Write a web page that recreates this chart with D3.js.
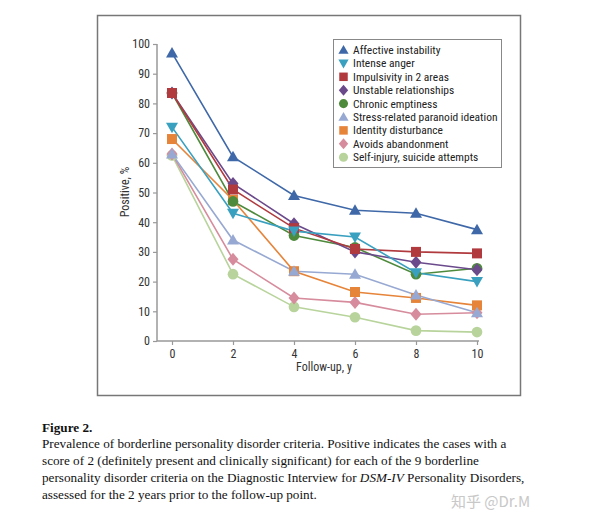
<!DOCTYPE html>
<html><head><meta charset="utf-8">
<script src="https://cdn.jsdelivr.net/npm/d3@7/dist/d3.min.js"></script>
<style>body{margin:0;background:#fff}svg{display:block}</style>
</head><body>
<svg id="c" width="600" height="526"></svg>
<script>
const years = [0, 2, 4, 6, 8, 10];
const yTicks = [0, 10, 20, 30, 40, 50, 60, 70, 80, 90, 100];
const seriesNames = ["Affective instability","Intense anger","Impulsivity in 2 areas","Unstable relationships","Chronic emptiness","Stress-related paranoid ideation","Identity disturbance","Avoids abandonment","Self-injury, suicide attempts"];
const affective = [97, 62, 49, 44, 43, 37.5];
const anger = [72, 43, 37, 35, 23, 20];
const impulsivity = [83.5, 51, 38, 31, 30, 29.5];
const unstable = [83.5, 53, 39.5, 30, 26.5, 24];
const emptiness = [83.5, 47, 35.5, 31.5, 22.5, 24.5];
const paranoid = [63, 34, 23.5, 22.5, 15.5, 9.5];
const identity = [68, 47.5, 23.5, 16.5, 14.5, 12];
const abandonment = [63, 27.5, 14.5, 13, 9, 9.5];
const selfInjury = [62.5, 22.5, 11.5, 8, 3.5, 3];
const allValues = [affective, anger, impulsivity, unstable, emptiness, paranoid, identity, abandonment, selfInjury];
const colors = ["#3f68a8","#3aa0c0","#b03a3e","#6b4a8c","#4e8a3c","#97a9d2","#e6843a","#d68c9c","#b8d49c"];
const shapes = ["triangle","triangleDown","square","diamond","circle","triangle","square","diamond","circle"];

const svg = d3.select("#c");
const x = d3.scaleLinear().domain([0, 10]).range([172, 477]);
const y = d3.scaleLinear().domain([0, 100]).range([341, 44]);

// outer frame
svg.append("rect").attr("x", 97.5).attr("y", 15.5).attr("width", 423).attr("height", 380)
  .attr("fill", "none").attr("stroke", "#777").attr("stroke-width", 1.5);

const font = "'Liberation Sans Narrow','Arial Narrow','Roboto Condensed','Liberation Sans',sans-serif";

// axes
const yAxis = svg.append("g").attr("transform", "translate(157,0)")
  .call(d3.axisLeft(y).tickValues(yTicks).tickSize(4).tickPadding(3));
const xAxis = svg.append("g").attr("transform", "translate(0,341)")
  .call(d3.axisBottom(x).tickValues(years).tickSize(4).tickPadding(4));
[yAxis, xAxis].forEach(a => {
  a.select(".domain").attr("stroke", "#999").attr("stroke-width", 1.5);
  a.selectAll(".tick line").attr("stroke", "#999").attr("stroke-width", 1.2);
  a.selectAll("text").attr("font-family", font).attr("font-size", 12).attr("fill", "#333");
});
yAxis.select(".domain").attr("d", `M0,${y(100)}V341`);
xAxis.select(".domain").attr("d", `M157,0H${x(10) + 2}`);

svg.append("text").attr("transform", "translate(129,192) rotate(-90)")
  .attr("text-anchor", "middle").attr("font-family", font).attr("font-size", 12).attr("fill", "#333")
  .text("Positive, %");
svg.append("text").attr("x", 324).attr("y", 371).attr("text-anchor", "middle")
  .attr("font-family", font).attr("font-size", 12).attr("fill", "#333").text("Follow-up, y");

function markerPath(shape) {
  switch (shape) {
    case "triangle": return "M0,-6L6,4.5L-6,4.5Z";
    case "triangleDown": return "M0,6L6,-4.5L-6,-4.5Z";
    case "square": return "M-5,-5H5V5H-5Z";
    case "diamond": return "M0,-6.5L5.5,0L0,6.5L-5.5,0Z";
    case "circle": return d3.symbol(d3.symbolCircle, 90)();
  }
}

const line = d3.line().x((d, i) => x(years[i])).y(d => y(d));
const order = d3.range(allValues.length).reverse();
order.forEach(k => {
  svg.append("path").attr("d", line(allValues[k])).attr("fill", "none")
    .attr("stroke", colors[k]).attr("stroke-width", 1.6);
});
order.forEach(k => {
  svg.append("g").selectAll("path").data(allValues[k]).join("path")
    .attr("transform", (d, i) => `translate(${x(years[i])},${y(d)})`)
    .attr("d", markerPath(shapes[k])).attr("fill", colors[k]);
});

// legend
const lg = svg.append("g");
lg.append("rect").attr("x", 333.5).attr("y", 39.5).attr("width", 168).attr("height", 128)
  .attr("fill", "#fff").attr("stroke", "#888").attr("stroke-width", 1);
seriesNames.forEach((n, i) => {
  const yy = 50 + i * 13.4;
  lg.append("path").attr("transform", `translate(343.5,${yy}) scale(0.85)`)
    .attr("d", markerPath(shapes[i])).attr("fill", colors[i]);
  lg.append("text").attr("x", 353).attr("y", yy + 4).attr("font-family", font)
    .attr("font-size", 11.5).attr("fill", "#222").text(n);
});

// caption
const serif = "'Liberation Serif','Times New Roman',serif";
const cap = svg.append("g").attr("font-family", serif).attr("font-size", 13.2).attr("fill", "#111");
cap.append("text").attr("x", 42).attr("y", 432).attr("font-weight", "bold").text("Figure 2.");
const lines = [
  ["Prevalence of borderline personality disorder criteria. Positive indicates the cases with a"],
  ["score of 2 (definitely present and clinically significant) for each of the 9 borderline"],
  ["personality disorder criteria on the Diagnostic Interview for ", {i: "DSM-IV"}, " Personality Disorders,"],
  ["assessed for the 2 years prior to the follow-up point."]
];
lines.forEach((parts, li) => {
  const t = cap.append("text").attr("x", 42).attr("y", 447.5 + li * 17.3);
  parts.forEach(p => {
    if (typeof p === "string") t.append("tspan").text(p);
    else t.append("tspan").attr("font-style", "italic").text(p.i);
  });
});

// watermark
svg.append("text").attr("x", 451).attr("y", 507).attr("font-family", "'Noto Sans CJK SC',sans-serif")
  .attr("font-size", 15).attr("fill", "#c8c8c8").text("知乎 @Dr.M");
</script>
</body></html>
